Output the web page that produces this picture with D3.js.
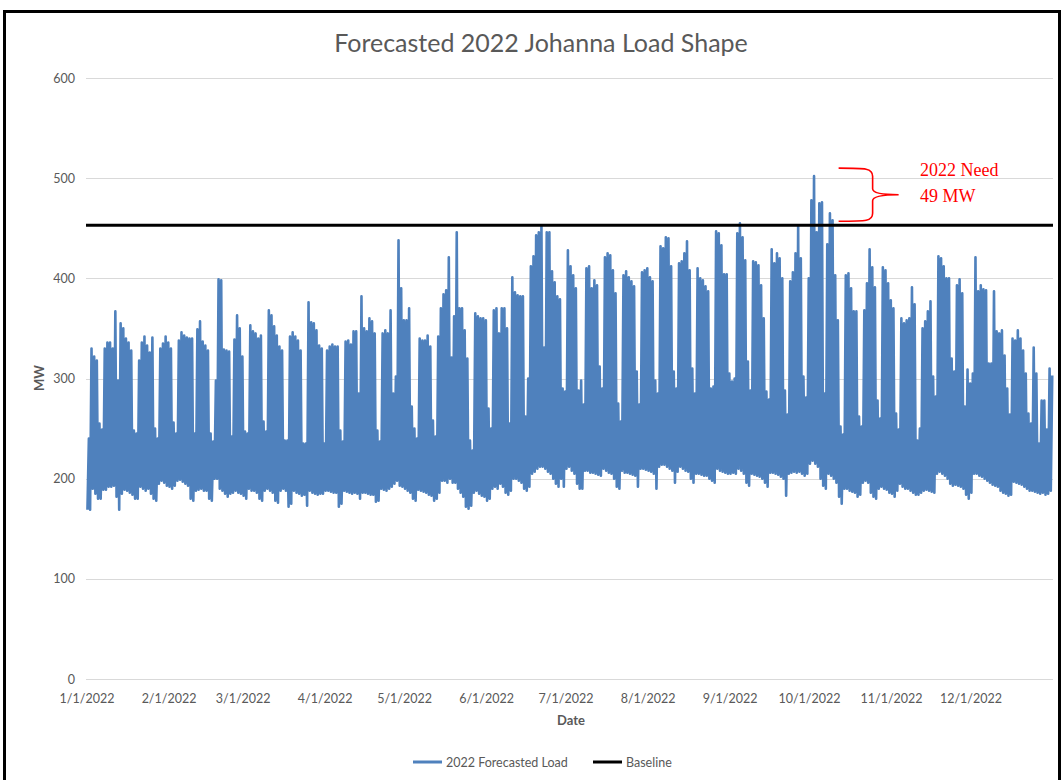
<!DOCTYPE html>
<html>
<head>
<meta charset="utf-8">
<script src="https://cdn.jsdelivr.net/npm/d3@7/dist/d3.min.js"></script>
<style>
  body { margin: 0; background: #fff; }
  svg { display: block; }
</style>
</head>
<body>
<div id="chart"></div>
<script>
// ---- data (one value per day starting 1/1/2022) ----
const year = 2022;
const chartTitle = 'Forecasted 2022 Johanna Load Shape';
const seriesNames = ['2022 Forecasted Load', 'Baseline'];
const yTicks = [0, 100, 200, 300, 400, 500, 600];
const baselineMW = 453;
const needLabel = ['2022 Need', '49 MW'];

// daily peak MW
const dailyPeak = [
  240,330,322,318,255,249,330,336,336,330,367,298,355,350,340,336,328,248,245,318,
  336,342,333,326,341,250,240,330,335,342,336,330,256,245,338,346,343,341,340,340,
  245,349,357,337,333,328,245,237,298,399,398,329,328,327,242,339,363,350,322,247,
  245,353,347,345,340,343,257,247,368,363,352,343,332,328,238,238,342,346,342,338,
  328,235,235,376,356,355,348,333,330,235,328,332,334,332,332,248,237,337,338,334,
  347,347,285,382,350,347,360,357,345,248,237,345,348,345,368,285,302,438,390,358,
  358,370,272,250,240,340,338,338,343,332,258,242,342,370,384,388,421,321,362,446,
  370,370,348,320,238,228,365,362,360,360,358,270,250,368,370,345,370,370,350,255,
  401,386,383,382,382,262,300,412,422,443,446,453,331,446,446,407,396,382,379,290,
  287,428,412,403,390,288,298,274,410,412,390,398,393,312,290,421,425,423,408,385,
  275,257,403,407,401,397,392,307,274,406,408,410,401,397,298,285,432,430,441,440,
  412,307,290,415,417,425,437,408,310,285,410,400,398,392,387,290,292,447,445,433,
  404,404,305,297,300,445,455,441,418,317,288,417,416,413,393,360,287,279,429,415,
  425,420,400,288,264,397,406,425,452,420,302,281,400,478,502,446,475,476,285,434,
  465,458,403,358,252,244,403,405,390,367,367,262,252,368,395,429,411,391,278,260,
  411,408,395,378,370,265,249,360,355,358,360,391,374,238,250,350,357,367,377,302,
  282,422,420,412,400,400,320,307,393,399,385,272,309,295,305,421,387,393,389,388,
  315,315,387,347,345,348,323,290,264,340,338,348,340,328,305,265,255,331,305,235,
  278,278,249,310,303
];

// daily minimum MW
const dailyLow = [
  169,169,190,185,180,180,189,189,192,192,193,182,169,185,189,188,186,184,180,180,
  192,190,188,190,185,180,178,195,198,196,193,192,190,193,198,199,197,195,193,180,
  178,188,189,190,188,188,180,178,200,200,190,188,185,182,185,186,188,186,185,183,
  180,190,188,188,186,180,178,188,190,188,186,178,176,188,190,188,172,175,188,186,
  185,183,184,173,188,186,185,184,185,185,188,188,187,186,186,172,175,188,187,186,
  185,186,185,180,186,186,185,184,184,177,178,190,189,188,190,192,195,198,193,192,
  190,188,186,180,178,189,188,187,186,184,183,178,180,186,198,198,196,200,196,196,
  190,186,182,172,170,173,186,188,185,183,182,178,180,190,192,190,195,192,186,184,
  188,200,200,198,196,190,188,192,205,207,210,212,212,210,207,205,200,195,192,200,
  192,210,212,208,205,195,190,190,208,208,206,206,205,204,203,210,208,206,205,200,
  192,190,208,206,206,205,204,203,192,210,210,209,208,207,205,190,212,214,214,212,
  210,208,196,207,212,210,208,207,200,196,205,205,204,203,203,200,198,196,210,208,
  207,206,205,205,206,205,210,208,205,196,193,205,204,203,202,200,196,192,206,206,
  205,204,202,200,183,205,206,207,206,207,205,203,205,215,218,215,212,200,193,190,
  205,203,200,196,182,175,190,190,188,187,186,182,184,196,198,196,186,182,180,190,
  192,190,189,186,185,182,188,195,192,190,190,188,186,184,184,186,188,189,188,187,
  186,205,207,205,203,200,195,193,194,193,192,190,184,180,186,205,205,203,202,200,
  198,196,194,193,192,188,186,185,183,184,197,196,195,194,192,190,188,188,187,186,
  185,186,184,185,188
];

// ---- layout ----
const W = 1063, H = 780;
const plot = { left: 87, right: 1053, top: 78, bottom: 679 };
const blue = '#4f81bd';
const gray = '#595959';
const font = 'Lato, "Open Sans", sans-serif';

const svg = d3.select('#chart').append('svg')
  .attr('width', W).attr('height', H);

svg.append('rect').attr('width', W).attr('height', H).attr('fill', '#fff');

// outer frame of the pasted chart
svg.append('rect')
  .attr('x', 4.5).attr('y', 11.5).attr('width', 1055).attr('height', 800)
  .attr('fill', 'none').attr('stroke', '#000').attr('stroke-width', 3);

const x = d3.scaleTime()
  .domain([new Date(year, 0, 1), new Date(year + 1, 0, 1)])
  .range([plot.left, plot.right]);

const y = d3.scaleLinear()
  .domain([0, 600])
  .range([plot.bottom, plot.top]);

// gridlines
svg.append('g')
  .selectAll('line')
  .data(yTicks)
  .join('line')
  .attr('x1', plot.left - 1).attr('x2', plot.right)
  .attr('y1', d => Math.round(y(d)) + 0.5).attr('y2', d => Math.round(y(d)) + 0.5)
  .attr('stroke', '#d9d9d9').attr('stroke-width', 1);

// y labels
svg.append('g')
  .selectAll('text')
  .data(yTicks)
  .join('text')
  .attr('x', 75).attr('y', d => y(d) + 4.5)
  .attr('text-anchor', 'end')
  .attr('font-family', font).attr('font-size', 12.5).attr('fill', gray)
  .text(d => d);

// x labels (month starts)
const months = d3.timeMonth.range(new Date(year, 0, 1), new Date(year, 11, 2));
svg.append('g')
  .selectAll('text')
  .data(months)
  .join('text')
  .attr('x', d => x(d)).attr('y', 703)
  .attr('text-anchor', 'middle')
  .attr('font-family', font).attr('font-size', 12.5).attr('fill', gray)
  .text(d3.timeFormat('%-m/%-d/%Y'));

// axis titles
svg.append('text')
  .attr('x', 571).attr('y', 725)
  .attr('text-anchor', 'middle')
  .attr('font-family', font).attr('font-size', 13).attr('font-weight', 700).attr('fill', gray)
  .text('Date');

svg.append('text')
  .attr('transform', 'translate(44,378) rotate(-90)')
  .attr('text-anchor', 'middle')
  .attr('font-family', font).attr('font-size', 13).attr('font-weight', 700).attr('fill', gray)
  .text('MW');

// title
svg.append('text')
  .attr('x', 541).attr('y', 52)
  .attr('text-anchor', 'middle')
  .attr('font-family', font).attr('font-size', 25).attr('font-weight', 400).attr('fill', gray)
  .text(chartTitle);

// load series: each day goes from its overnight low to its afternoon peak
const points = [];
dailyPeak.forEach((p, i) => {
  points.push({ t: new Date(year, 0, 1 + i, 4), v: dailyLow[i] });
  points.push({ t: new Date(year, 0, 1 + i, 17), v: p });
});

const line = d3.line()
  .x(d => x(d.t))
  .y(d => y(d.v));

svg.append('path')
  .datum(points)
  .attr('d', line)
  .attr('fill', 'none')
  .attr('stroke', blue)
  .attr('stroke-width', 2.6)
  .attr('stroke-linejoin', 'round');

// baseline
svg.append('line')
  .attr('x1', plot.left - 1).attr('x2', plot.right)
  .attr('y1', y(baselineMW)).attr('y2', y(baselineMW))
  .attr('stroke', '#000').attr('stroke-width', 3);

// annotation brace from the peak down to the baseline
const peakMW = d3.max(dailyPeak);
const bx0 = x(new Date(year, 9, 12)), bx1 = bx0 + 34, tipX = bx0 + 60;
const yTop = y(peakMW) - 8, yBot = y(baselineMW) - 4, yMid = (yTop + yBot) / 2;
const brace = d3.path();
brace.moveTo(bx0, yTop);
brace.bezierCurveTo(bx0 + 28, yTop, bx1, yTop, bx1, yTop + 8);
brace.lineTo(bx1, yMid - 6);
brace.quadraticCurveTo(bx1, yMid, tipX, yMid);
brace.quadraticCurveTo(bx1, yMid, bx1, yMid + 6);
brace.lineTo(bx1, yBot - 8);
brace.bezierCurveTo(bx1, yBot, bx0 + 28, yBot, bx0, yBot);
svg.append('path')
  .attr('d', brace.toString())
  .attr('fill', 'none').attr('stroke', '#ff0000').attr('stroke-width', 1.6);

svg.append('g')
  .selectAll('text')
  .data(needLabel)
  .join('text')
  .attr('x', 920).attr('y', (d, i) => 176 + i * 26)
  .attr('font-family', '"Liberation Serif", "Times New Roman", serif')
  .attr('font-size', 18).attr('fill', '#ff0000')
  .text(d => d);

// legend
const legend = svg.append('g').attr('transform', 'translate(413,762)');
const legendItems = [
  { name: seriesNames[0], color: blue, x: 0 },
  { name: seriesNames[1], color: '#000', x: 180 }
];
legendItems.forEach(it => {
  legend.append('line')
    .attr('x1', it.x).attr('x2', it.x + 29).attr('y1', 0).attr('y2', 0)
    .attr('stroke', it.color).attr('stroke-width', 3);
  legend.append('text')
    .attr('x', it.x + 33).attr('y', 4.5)
    .attr('font-family', font).attr('font-size', 12.5).attr('fill', gray)
    .text(it.name);
});
</script>
</body>
</html>
